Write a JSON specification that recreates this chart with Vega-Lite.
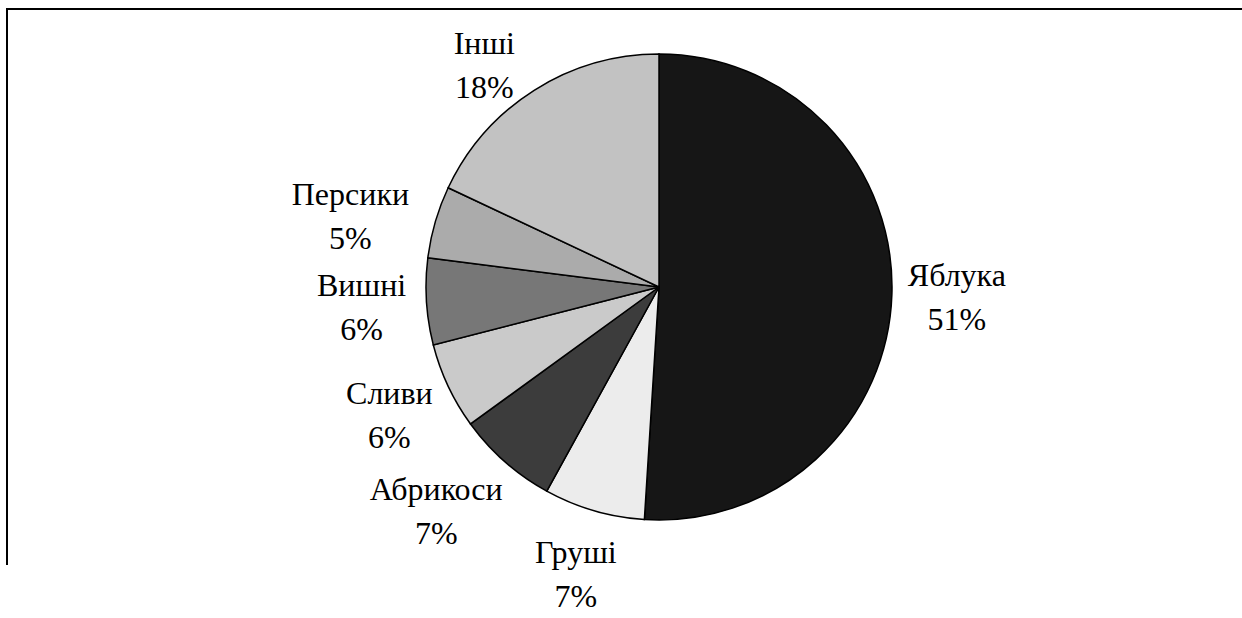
{
  "$schema": "https://vega.github.io/schema/vega-lite/v6.json",
  "width": 1304,
  "height": 556,
  "autosize": {"type": "none"},
  "padding": {"left": 7, "top": 9, "right": 0, "bottom": 53},
  "background": "white",
  "view": {"stroke": "black", "strokeWidth": 2, "strokeDash": [1860, 1304, 556]},
  "data": {
    "values": [
      {"idx": 1, "fruit": "Яблука", "share": 51, "label": "Яблука\n51%"},
      {"idx": 2, "fruit": "Груші", "share": 7, "label": "Груші\n7%"},
      {"idx": 3, "fruit": "Абрикоси", "share": 7, "label": "Абрикоси\n7%"},
      {"idx": 4, "fruit": "Сливи", "share": 6, "label": "Сливи\n6%"},
      {"idx": 5, "fruit": "Вишні", "share": 6, "label": "Вишні\n6%"},
      {"idx": 6, "fruit": "Персики", "share": 5, "label": "Персики\n5%"},
      {"idx": 7, "fruit": "Інші", "share": 18, "label": "Інші\n18%"}
    ]
  },
  "encoding": {
    "theta": {"field": "share", "type": "quantitative", "stack": true},
    "order": {"field": "idx", "type": "quantitative"}
  },
  "layer": [
    {
      "mark": {"type": "arc", "outerRadius": 233, "stroke": "black", "strokeWidth": 1.5},
      "encoding": {
        "color": {
          "field": "fruit",
          "type": "nominal",
          "scale": {
            "domain": ["Яблука", "Груші", "Абрикоси", "Сливи", "Вишні", "Персики", "Інші"],
            "range": ["#161616", "#ececec", "#3c3c3c", "#cacaca", "#777777", "#ababab", "#c2c2c2"]
          },
          "legend": null
        }
      }
    },
    {
      "mark": {
        "type": "text",
        "radius": 298,
        "font": "Liberation Serif",
        "fontSize": 32,
        "lineBreak": "\n",
        "lineHeight": 44,
        "align": "center",
        "baseline": "middle",
        "dy": -20,
        "color": "black"
      },
      "encoding": {
        "text": {
          "condition": {"test": "indexof(['Яблука','Груші','Сливи','Вишні'], datum.fruit) >= 0", "field": "label", "type": "nominal"},
          "value": ""
        }
      }
    },
    {
      "mark": {
        "type": "text",
        "radius": 287,
        "font": "Liberation Serif",
        "fontSize": 32,
        "lineBreak": "\n",
        "lineHeight": 44,
        "align": "center",
        "baseline": "middle",
        "dx": -33,
        "dy": -12,
        "color": "black"
      },
      "encoding": {
        "text": {
          "condition": {"test": "indexof(['Персики','Абрикоси'], datum.fruit) >= 0", "field": "label", "type": "nominal"},
          "value": ""
        }
      }
    },
    {
      "mark": {
        "type": "text",
        "radius": 298,
        "font": "Liberation Serif",
        "fontSize": 32,
        "lineBreak": "\n",
        "lineHeight": 44,
        "align": "center",
        "baseline": "middle",
        "dx": -15,
        "dy": 9,
        "color": "black"
      },
      "encoding": {
        "text": {
          "condition": {"test": "datum.fruit === 'Інші'", "field": "label", "type": "nominal"},
          "value": ""
        }
      }
    }
  ]
}
